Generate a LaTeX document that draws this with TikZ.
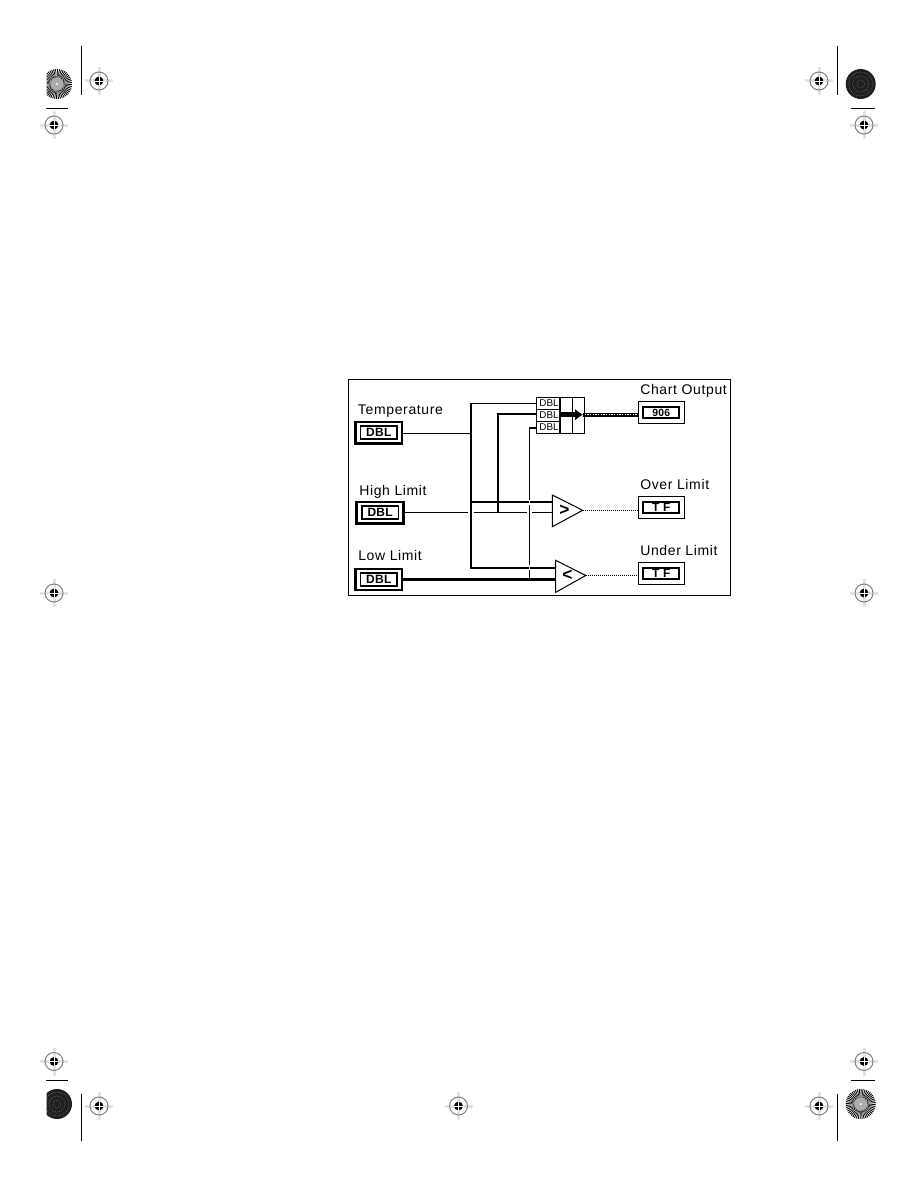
\documentclass[tikz,border=0pt]{standalone}
\usepackage{fontspec}
\setmainfont{Liberation Sans}
\newfontfamily\panelfont[LetterSpace=4.6]{Liberation Sans}
\newfontfamily\termfont[LetterSpace=2]{Liberation Sans}
\usetikzlibrary{calc,arrows.meta}
\tikzset{
  px/.style={line width=#1*0.75pt},
  frameBox/.style={draw=black, px=1},
  wireThin/.style={draw=black, px=1},
  wireThick/.style={draw=black, px=2.2},
  wireBool/.style={draw=black, px=1, dash pattern=on 0.75pt off 0.75pt},
  ctlOuter/.style={draw=black, fill=white, px=2.6, minimum width=35pt, minimum height=16pt, inner sep=0pt},
  ctlInner/.style={draw=black, fill=white, px=1.8, minimum width=27.5pt, minimum height=9.5pt, inner sep=0pt,
    font=\fontsize{9}{9}\termfont\bfseries},
  indOuter/.style={draw=black, fill=white, px=1.4, minimum width=34.5pt, minimum height=16.5pt, inner sep=0pt},
  indInner/.style={draw=black, fill=white, px=1.8, minimum width=27pt, minimum height=8.5pt, inner sep=0pt,
    font=\fontsize{9}{9}\termfont\bfseries},
  nameLbl/.style={anchor=base west, inner sep=0pt, font=\fontsize{10.5}{11}\panelfont},
  elemBox/.style={draw=black, fill=white, px=1, minimum width=17.25pt, minimum height=8.9pt, inner sep=0pt,
    font=\fontsize{7.4}{8}\selectfont},
  bundleBox/.style={draw=black, fill=white, px=1, minimum width=18pt, minimum height=27pt, inner sep=0pt},
  cmpTri/.style={draw=black, fill=white, px=1},
  cmpSign/.style={inner sep=0pt, font=\fontsize{13}{13}\selectfont\bfseries},
  cropLine/.style={draw=black, px=1.1},
}
% printer's registration target
\newcommand{\RegMark}[2]{%
  \begin{scope}[shift={(#1,#2)}]
    \draw[gray!22, px=3] (-14,0) -- (14,0) (0,-14) -- (0,14);
    \draw[gray, px=1] (0,0) circle (9);
    \fill[black] (0,0) circle (4.4);
    \draw[white, px=0.7] (-5,0) -- (5,0) (0,-5) -- (0,5);
  \end{scope}
}
% spoked disc, cut off at the trim line by #3
\newcommand{\SpokeDisc}[3]{%
  \begin{scope}
    \clip (#3,#2-16) rectangle (#1+16,#2+16);
    \foreach \a in {0,7.5,...,352.5}
      \fill[black] (#1,#2) -- ($(#1,#2)+(\a:15)$) arc (\a:\a+3.75:15) -- cycle;
    \fill[gray!65] (#1,#2) circle (6.5);
    \fill[white] (#1,#2) circle (1.2);
  \end{scope}
}
% dark disc with faint rings
\newcommand{\DarkDisc}[3]{%
  \begin{scope}
    \clip (#3,#2-16) rectangle (#1+16,#2+16);
    \fill[black!88] (#1,#2) circle (15);
    \foreach \r in {4,8,12}
      \draw[gray, px=0.6, densely dotted] (#1,#2) circle (\r);
  \end{scope}
}

\begin{document}
\begin{tikzpicture}[x=0.75pt, y=-0.75pt]
  \useasboundingbox (0,0) rectangle (918,1188);
  \fill[white] (0,0) rectangle (918,1188);

  % trim marks
  \draw[cropLine] (81.5,46) -- (81.5,95);
  \draw[cropLine] (837.5,46) -- (837.5,95);
  \draw[cropLine] (81.5,1094) -- (81.5,1141);
  \draw[cropLine] (837.5,1094) -- (837.5,1141);
  \draw[cropLine] (46,108.5) -- (68,108.5);
  \draw[cropLine] (851,108.5) -- (875,108.5);
  \draw[cropLine] (46,1080.5) -- (68,1080.5);
  \draw[cropLine] (851,1080.5) -- (875,1080.5);

  \SpokeDisc{57}{84}{46.7}
  \DarkDisc{860.7}{84}{845}
  \DarkDisc{57}{1104}{46.7}
  \SpokeDisc{860.7}{1104}{845}

  \foreach \mx/\my in {99/81, 54/125, 819/81, 864/125, 54/593, 864/593,
      54/1061.5, 864/1061.5, 99/1106, 458.5/1106, 819/1106}
    {\RegMark{\mx}{\my}}

  % block diagram frame
  \draw[frameBox] (348.5,379.5) rectangle (730,595);

  % front panel terminals
  \node[ctlOuter] (tempBox) at (378.8,432.6) {};
  \node[ctlInner] (tempVal) at (tempBox) {DBL};
  \node[ctlOuter] (highBox) at (380.1,512.7) {};
  \node[ctlInner] (highVal) at (highBox) {DBL};
  \node[ctlOuter] (lowBox) at (378.8,579.5) {};
  \node[ctlInner] (lowVal) at (lowBox) {DBL};

  \node[indOuter] (chartBox) at (661.3,412.7) {};
  \node[indInner] (chartVal) at (chartBox) {\fontsize{7.8}{8}\termfont\bfseries 906};
  \node[indOuter] (overBox) at (661.3,507.7) {};
  \node[indInner] (overVal) at (overBox) {T F};
  \node[indOuter] (underBox) at (661.3,573.3) {};
  \node[indInner] (underVal) at (underBox) {T F};

  \node[nameLbl] (tempLbl) at (357.7,414) {Temperature};
  \node[nameLbl] (highLbl) at (359,495) {High Limit};
  \node[nameLbl] (lowLbl) at (358,560.7) {Low Limit};
  \node[nameLbl] (chartLbl) at (640,394) {Chart Output};
  \node[nameLbl] (overLbl) at (640,489.3) {Over Limit};
  \node[nameLbl] (underLbl) at (640,555) {Under Limit};

  % bundle elements
  \node[elemBox] (elemA) at (548.3,403.6) {\hspace{1pt}DBL};
  \node[elemBox] (elemB) at (548.3,415.5) {\hspace{1pt}DBL};
  \node[elemBox] (elemC) at (548.3,427.6) {\hspace{1pt}DBL};
  \node[bundleBox] (bundle) at (572,415.7) {};
  \draw[wireThin] (bundle.north) -- (bundle.south);

  % comparators
  \coordinate (gtTop) at (552.3,495);
  \coordinate (gtBot) at (552.3,526.7);
  \coordinate (gtTip) at (582.7,510.3);
  \draw[cmpTri] (gtTop) -- (gtTip) -- (gtBot) -- cycle;
  \node[cmpSign] (gtSign) at (564.5,510.5) {>};
  \coordinate (ltTop) at (555.7,560.3);
  \coordinate (ltBot) at (555.7,592.3);
  \coordinate (ltTip) at (585.7,575.5);
  \draw[cmpTri] (ltTop) -- (ltTip) -- (ltBot) -- cycle;
  \node[cmpSign] (ltSign) at (567.5,575.5) {<};

  % high limit branch, broken where other wires pass
  \coordinate (highGapA) at (468,512.7);
  \coordinate (highGapB) at (474,512.7);
  \coordinate (highGapC) at (527,512.7);
  \coordinate (highGapD) at (532,512.7);
  \coordinate (highIn) at (552.3,512.7);
  \draw[wireThin] (highBox.east) -- (highGapA);
  \draw[wireThin] (highGapB) -- (highGapC);
  \draw[wireThin] (highGapD) -- (highIn);

  % temperature branch
  \coordinate (tempJoin) at (471,433.3);
  \coordinate (topCorner) at (471,403.3);
  \coordinate (lowCorner) at (471,567.7);
  \coordinate (gtJoin) at (471,502.3);
  \coordinate (gtIn) at (552.3,502.3);
  \draw[wireThin] (tempBox.east |- tempJoin) -- (tempJoin);
  \draw[wireThin] (topCorner) -- (elemA.west |- topCorner);
  \draw[wireThick] (topCorner) -- (lowCorner) -- (ltTop |- lowCorner);
  \draw[wireThick] (gtJoin) -- (gtIn);

  % high limit up to the second element
  \coordinate (midFoot) at (497.7,512.7);
  \coordinate (midCorner) at (497.7,414.3);
  \draw[wireThick] (midFoot) -- (midCorner) -- (elemB.west |- midCorner);

  % low limit up to the third element
  \coordinate (lowTee) at (529.3,579.5);
  \coordinate (lastCorner) at (529.3,428);
  \draw[wireThick] (lowBox.east) -- (ltTop |- lowBox.east);
  \draw[wireThin] (lowTee) -- (lastCorner);
  \draw[wireThick] (lastCorner) -- (elemC.west |- lastCorner);
  \draw[white, px=1.2] (529.3,504.6) -- (529.3,500) (529.3,570) -- (529.3,565.4);

  % bundled output
  \coordinate (arrowTail) at (561,414.7);
  \coordinate (arrowTip) at (583,414.7);
  \coordinate (chartIn) at (637.5,414.7);
  \draw[black, -{Latex[length=6pt,width=9pt]}, px=5.5] (arrowTail) -- (arrowTip);
  \draw[black, px=4.2] (arrowTip) -- (chartIn);
  \draw[white, px=1.5, dash pattern=on 1pt off 1pt] (arrowTip) ++(1.5,0) -- (chartIn);

  % boolean outputs
  \draw[wireBool] (gtTip) -- (overBox.west |- gtTip);
  \draw[wireBool] (ltTip) -- (underBox.west |- ltTip);
\end{tikzpicture}
\end{document}
